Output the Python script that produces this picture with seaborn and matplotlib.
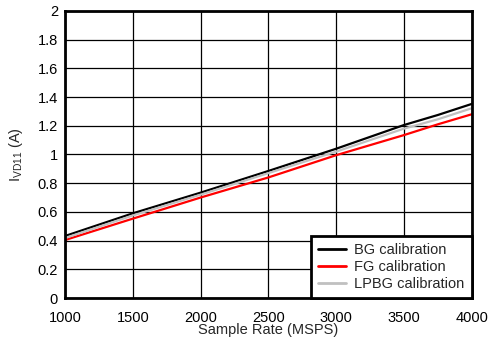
import matplotlib
matplotlib.use("Agg")
import matplotlib.pyplot as plt
import seaborn as sns
import pandas as pd

sample_rate = [1000, 1500, 2000, 2500, 3000, 3500, 3750, 4000]
bg = [0.432, 0.590, 0.734, 0.885, 1.040, 1.205, 1.275, 1.352]
fg = [0.404, 0.553, 0.700, 0.840, 0.995, 1.135, 1.210, 1.280]
lpbg = [0.418, 0.575, 0.720, 0.870, 1.020, 1.180, 1.245, 1.322]
series_names = ["BG calibration", "FG calibration", "LPBG calibration"]
colors = ["#000000", "#ff0000", "#c0c0c0"]

sns.set_style("white")
plt.rcParams['font.family'] = ['Liberation Sans', 'DejaVu Sans']
plt.rcParams['mathtext.fontset'] = 'custom'
plt.rcParams['mathtext.rm'] = 'Liberation Sans'

df = pd.DataFrame({
    "x": sample_rate * 3,
    "y": bg + fg + lpbg,
    "series": [series_names[0]] * len(bg) + [series_names[1]] * len(fg) + [series_names[2]] * len(lpbg),
})

fig = plt.figure(figsize=(4.9, 3.41), dpi=100)
ax = fig.add_axes([0.1327, 0.126, 0.830, 0.842])
sns.lineplot(data=df, x="x", y="y", hue="series", palette=colors,
             hue_order=series_names, linewidth=1.6, ax=ax)

ax.set_xlim(1000, 4000)
ax.set_ylim(0, 2)
ax.set_xticks(range(1000, 4001, 500))
ax.set_yticks([0, 0.2, 0.4, 0.6, 0.8, 1, 1.2, 1.4, 1.6, 1.8, 2])
ax.set_yticklabels(["0", "0.2", "0.4", "0.6", "0.8", "1", "1.2", "1.4", "1.6", "1.8", "2"])
ax.grid(True, color="#000000", linewidth=0.9)
ax.set_axisbelow(True)
for s in ax.spines.values():
    s.set_color("black")
    s.set_linewidth(2)
ax.tick_params(axis='both', labelsize=10.5, length=0, colors='black')
ax.tick_params(axis='x', pad=9)
ax.tick_params(axis='y', pad=5)
ax.set_xlabel("Sample Rate (MSPS)", fontsize=10.5, labelpad=-1)
ax.set_ylabel(r"I$_{\mathregular{VD11}}$ (A)", fontsize=10.5, labelpad=9)

leg = ax.legend(loc="lower right", fontsize=10.5, frameon=True, fancybox=False,
                borderaxespad=0, handlelength=1.9, handletextpad=0.55,
                labelspacing=0.18, borderpad=0.5)
leg.get_frame().set_edgecolor("black")
leg.get_frame().set_linewidth(2)
leg.get_frame().set_alpha(1)
for line in leg.get_lines():
    line.set_linewidth(2)

fig.savefig("out.png", dpi=100)
